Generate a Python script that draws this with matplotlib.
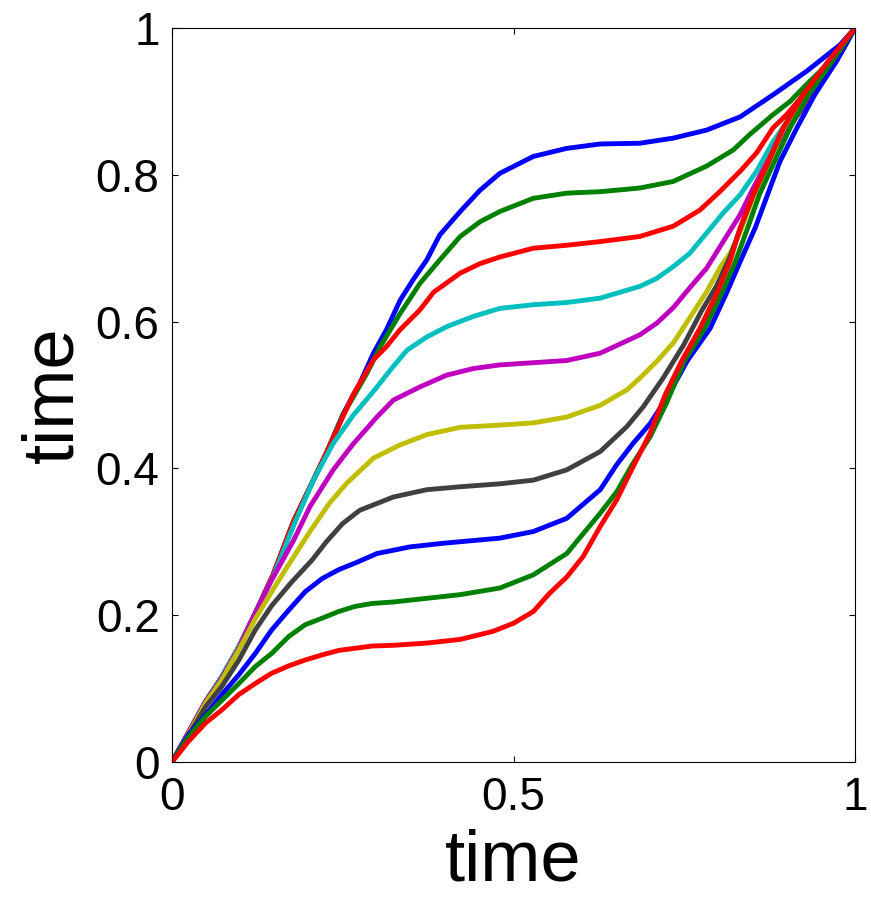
import matplotlib
matplotlib.use("Agg")
import matplotlib.pyplot as plt

# ---- data (x = time, y = warped time) ----
x_blue1 = [0, 0.024, 0.049, 0.073, 0.098, 0.122, 0.148, 0.178, 0.207, 0.226, 0.251, 0.275, 0.295, 0.314, 0.334,
           0.353, 0.373, 0.392, 0.422, 0.451, 0.480, 0.529, 0.578, 0.627, 0.685, 0.734, 0.783, 0.832, 0.880,
           0.929, 0.978, 1.0]
y_blue1 = [0, 0.040, 0.082, 0.116, 0.157, 0.203, 0.255, 0.328, 0.384, 0.421, 0.475, 0.516, 0.557, 0.589, 0.629,
           0.657, 0.684, 0.718, 0.750, 0.779, 0.802, 0.825, 0.836, 0.842, 0.843, 0.850, 0.861, 0.879, 0.909,
           0.941, 0.977, 1.0]

x_green2 = [0, 0.024, 0.049, 0.073, 0.098, 0.122, 0.148, 0.178, 0.207, 0.226, 0.251, 0.285, 0.305, 0.334, 0.363,
            0.392, 0.422, 0.451, 0.480, 0.529, 0.578, 0.627, 0.685, 0.734, 0.783, 0.822, 0.846, 0.880, 0.905,
            0.929, 0.959, 0.978, 1.0]
y_green2 = [0, 0.040, 0.082, 0.116, 0.157, 0.203, 0.255, 0.328, 0.384, 0.421, 0.474, 0.529, 0.566, 0.611, 0.652,
            0.684, 0.716, 0.736, 0.750, 0.768, 0.775, 0.777, 0.782, 0.791, 0.812, 0.834, 0.855, 0.882, 0.900,
            0.923, 0.950, 0.970, 1.0]

x_red3 = [0, 0.024, 0.049, 0.073, 0.098, 0.122, 0.148, 0.178, 0.207, 0.226, 0.251, 0.265, 0.295, 0.314, 0.334,
          0.363, 0.383, 0.422, 0.451, 0.480, 0.529, 0.578, 0.627, 0.685, 0.734, 0.773, 0.802, 0.832, 0.856,
          0.880, 0.900, 0.929, 0.959, 1.0]
y_red3 = [0, 0.040, 0.082, 0.116, 0.157, 0.203, 0.255, 0.328, 0.384, 0.421, 0.472, 0.500, 0.548, 0.566, 0.589,
          0.616, 0.640, 0.666, 0.679, 0.688, 0.700, 0.704, 0.709, 0.716, 0.730, 0.752, 0.777, 0.805, 0.830,
          0.864, 0.882, 0.914, 0.946, 1.0]

x_cyan4 = [0, 0.024, 0.049, 0.073, 0.098, 0.122, 0.148, 0.178, 0.207, 0.236, 0.265, 0.295, 0.324, 0.344, 0.373,
           0.402, 0.441, 0.480, 0.529, 0.578, 0.627, 0.685, 0.710, 0.734, 0.758, 0.783, 0.807, 0.832, 0.856,
           0.880, 0.905, 0.929, 0.955, 0.978, 1.0]
y_cyan4 = [0, 0.040, 0.082, 0.116, 0.157, 0.203, 0.252, 0.322, 0.384, 0.434, 0.472, 0.505, 0.539, 0.561, 0.579,
           0.593, 0.607, 0.618, 0.623, 0.626, 0.632, 0.648, 0.659, 0.675, 0.693, 0.721, 0.748, 0.773, 0.805,
           0.845, 0.878, 0.912, 0.944, 0.972, 1.0]

x_magenta5 = [0, 0.024, 0.049, 0.073, 0.098, 0.109, 0.143, 0.178, 0.202, 0.236, 0.265, 0.300, 0.324, 0.363, 0.402,
              0.441, 0.480, 0.529, 0.578, 0.627, 0.685, 0.710, 0.734, 0.758, 0.783, 0.807, 0.832, 0.851, 0.870,
              0.890, 0.915, 0.941, 0.973, 1.0]
y_magenta5 = [0, 0.040, 0.082, 0.114, 0.155, 0.178, 0.243, 0.302, 0.348, 0.398, 0.433, 0.470, 0.493, 0.511, 0.527,
              0.536, 0.541, 0.544, 0.547, 0.557, 0.582, 0.598, 0.619, 0.646, 0.673, 0.709, 0.746, 0.782, 0.815,
              0.848, 0.880, 0.912, 0.955, 1.0]

x_yellow6 = [0, 0.024, 0.049, 0.073, 0.098, 0.122, 0.146, 0.166, 0.202, 0.230, 0.256, 0.295, 0.334, 0.373, 0.422,
             0.480, 0.529, 0.578, 0.627, 0.666, 0.685, 0.710, 0.734, 0.758, 0.783, 0.802, 0.817, 0.832, 0.851,
             0.873, 0.895, 0.924, 0.961, 1.0]
y_yellow6 = [0, 0.038, 0.080, 0.112, 0.153, 0.195, 0.232, 0.262, 0.314, 0.352, 0.380, 0.414, 0.432, 0.446, 0.456,
             0.459, 0.462, 0.470, 0.486, 0.507, 0.523, 0.546, 0.571, 0.605, 0.641, 0.673, 0.693, 0.722, 0.770,
             0.815, 0.862, 0.907, 0.953, 1.0]

x_gray7 = [0, 0.024, 0.049, 0.073, 0.098, 0.122, 0.146, 0.175, 0.205, 0.226, 0.250, 0.275, 0.324, 0.373, 0.422,
           0.480, 0.529, 0.578, 0.627, 0.666, 0.690, 0.719, 0.749, 0.775, 0.797, 0.817, 0.832, 0.851, 0.873,
           0.895, 0.924, 0.961, 1.0]
y_gray7 = [0, 0.036, 0.075, 0.103, 0.139, 0.180, 0.213, 0.245, 0.275, 0.300, 0.325, 0.343, 0.361, 0.371, 0.375,
           0.379, 0.384, 0.398, 0.423, 0.457, 0.484, 0.523, 0.568, 0.614, 0.648, 0.688, 0.727, 0.773, 0.817,
           0.864, 0.909, 0.954, 1.0]

x_blue8 = [0, 0.024, 0.049, 0.073, 0.098, 0.122, 0.146, 0.171, 0.195, 0.220, 0.244, 0.268, 0.300, 0.348, 0.397,
           0.480, 0.529, 0.578, 0.627, 0.651, 0.675, 0.700, 0.727, 0.754, 0.788, 0.811, 0.832, 0.854, 0.872,
           0.890, 0.915, 0.941, 0.973, 1.0]
y_blue8 = [0, 0.037, 0.064, 0.092, 0.119, 0.148, 0.180, 0.207, 0.232, 0.250, 0.262, 0.271, 0.284, 0.293, 0.298,
           0.305, 0.314, 0.332, 0.371, 0.405, 0.434, 0.461, 0.500, 0.546, 0.591, 0.637, 0.682, 0.728, 0.773,
           0.818, 0.864, 0.909, 0.955, 1.0]

x_green9 = [0, 0.024, 0.049, 0.073, 0.098, 0.122, 0.146, 0.171, 0.195, 0.220, 0.244, 0.268, 0.293, 0.324, 0.373,
            0.422, 0.480, 0.529, 0.578, 0.602, 0.627, 0.651, 0.675, 0.700, 0.724, 0.750, 0.780, 0.804, 0.825,
            0.843, 0.860, 0.882, 0.905, 0.932, 0.967, 1.0]
y_green9 = [0, 0.034, 0.062, 0.084, 0.107, 0.130, 0.148, 0.171, 0.187, 0.196, 0.205, 0.212, 0.216, 0.218, 0.223,
            0.228, 0.237, 0.255, 0.284, 0.311, 0.339, 0.368, 0.407, 0.443, 0.489, 0.546, 0.591, 0.637, 0.682,
            0.728, 0.773, 0.818, 0.864, 0.909, 0.955, 1.0]

x_red10 = [0, 0.024, 0.049, 0.073, 0.098, 0.122, 0.146, 0.171, 0.195, 0.220, 0.244, 0.293, 0.324, 0.373, 0.422,
           0.470, 0.500, 0.529, 0.553, 0.578, 0.602, 0.627, 0.651, 0.675, 0.700, 0.722, 0.746, 0.773, 0.797,
           0.817, 0.832, 0.851, 0.873, 0.895, 0.924, 0.961, 1.0]
y_red10 = [0, 0.028, 0.053, 0.071, 0.092, 0.107, 0.121, 0.131, 0.139, 0.146, 0.152, 0.158, 0.159, 0.162, 0.167,
           0.178, 0.189, 0.205, 0.230, 0.252, 0.280, 0.321, 0.357, 0.402, 0.448, 0.500, 0.546, 0.591, 0.637,
           0.682, 0.728, 0.773, 0.818, 0.864, 0.909, 0.955, 1.0]

curve_x = [x_blue1, x_green2, x_red3, x_cyan4, x_magenta5, x_yellow6, x_gray7, x_blue8, x_green9, x_red10]
curve_y = [y_blue1, y_green2, y_red3, y_cyan4, y_magenta5, y_yellow6, y_gray7, y_blue8, y_green9, y_red10]
curve_colors = ["#0000ff", "#008000", "#ff0000", "#00bfbf", "#bf00bf", "#bfbf00", "#404040",
                "#0000ff", "#008000", "#ff0000"]

x_ticks = [0, 0.5, 1]
x_tick_labels = ["0", "0.5", "1"]
y_ticks = [0, 0.2, 0.4, 0.6, 0.8, 1]
y_tick_labels = ["0", "0.2", "0.4", "0.6", "0.8", "1"]
x_label = "time"
y_label = "time"

plt.rcParams["font.family"] = ["Liberation Sans", "DejaVu Sans"]

fig = plt.figure(figsize=(8.71, 9.0), dpi=100)
ax = fig.add_axes([172 / 871, 138 / 900, 683 / 871, 734 / 900])

for xs, ys, c in zip(curve_x, curve_y, curve_colors):
    ax.plot(xs, ys, color=c, linewidth=3.5, solid_joinstyle="round", solid_capstyle="round")

ax.set_xlim(0, 1)
ax.set_ylim(0, 1)
ax.set_xticks(x_ticks)
ax.set_xticklabels(x_tick_labels)
ax.set_yticks(y_ticks)
ax.set_yticklabels(y_tick_labels)
ax.tick_params(axis="both", which="both", direction="in", length=4.5, width=0.8,
               top=True, right=True, labelsize=33, colors="black")
ax.tick_params(axis="x", pad=10)
ax.tick_params(axis="y", pad=9)
for s in ax.spines.values():
    s.set_linewidth(0.8)
    s.set_color("black")

ax.set_xlabel(x_label, fontsize=52, labelpad=6)
ax.set_ylabel(y_label, fontsize=52, labelpad=6)

fig.savefig("out.png", dpi=100, facecolor="white")
